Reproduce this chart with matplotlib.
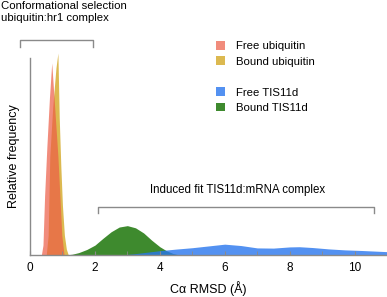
import matplotlib
matplotlib.use("Agg")
import matplotlib.pyplot as plt
from matplotlib.patches import Patch

plt.rcParams['font.family'] = ['Liberation Sans', 'DejaVu Sans']

# Free / bound ubiquitin (narrow peaks)
free_ubq_x = [0.35, 0.40, 0.45, 0.52, 0.60, 0.67, 0.72, 0.80, 0.86, 0.92, 0.98, 1.05]
free_ubq_y = [0.0, 0.05, 0.30, 0.55, 0.80, 0.975, 0.85, 0.65, 0.50, 0.30, 0.10, 0.0]
bound_ubq_x = [0.50, 0.56, 0.61, 0.70, 0.80, 0.86, 0.90, 0.95, 1.00, 1.06, 1.12, 1.18]
bound_ubq_y = [0.0, 0.10, 0.50, 0.75, 0.95, 1.025, 0.70, 0.45, 0.25, 0.10, 0.03, 0.0]

# Bound TIS11d
bound_tis_x = [1.1, 1.3, 1.5, 1.75, 2.0, 2.25, 2.5, 2.75, 3.0, 3.25, 3.5, 3.75, 4.0, 4.2, 4.4, 4.6]
bound_tis_y = [0.0, 0.004, 0.012, 0.028, 0.05, 0.085, 0.118, 0.142, 0.149, 0.138, 0.112, 0.075, 0.042, 0.022, 0.008, 0.0]

# Free TIS11d
free_tis_x = [2.8, 3.2, 3.6, 4.0, 4.5, 5.0, 5.5, 6.0, 6.5, 7.0, 7.5, 8.0, 8.3, 8.7, 9.2, 9.7, 10.2, 10.6, 11.0]
free_tis_y = [0.0, 0.006, 0.014, 0.022, 0.030, 0.037, 0.046, 0.055, 0.048, 0.036, 0.035, 0.041, 0.042, 0.038, 0.031, 0.026, 0.023, 0.020, 0.017]

xticks = [0, 2, 4, 6, 8, 10]
minor_xticks = [1, 3, 5, 7, 9, 11]

c_free_ubq = (236 / 255, 91 / 255, 69 / 255)
c_bound_ubq = '#DCB950'
c_free_tis = (40 / 255, 118 / 255, 238 / 255)
c_bound_tis = '#3E8A2E'
spine_gray = '#8a8a8a'

W, H = 387, 297
fig = plt.figure(figsize=(W / 100, H / 100), dpi=100)
ax = fig.add_axes([30 / W, 1 - 255 / H, (W - 30) / W, (255 - 58) / H])

ax.fill_between(bound_tis_x, bound_tis_y, color=c_bound_tis, lw=0)
ax.fill_between(free_tis_x, free_tis_y, color=c_free_tis, alpha=0.8, lw=0)
ax.fill_between(bound_ubq_x, bound_ubq_y, color=c_bound_ubq, lw=0, clip_on=False)
ax.fill_between(free_ubq_x, free_ubq_y, color=c_free_ubq, alpha=0.7, lw=0, clip_on=False)

ax.set_xlim(0, 11)
ax.set_ylim(0, 1.0)
for s in ['top', 'right']:
    ax.spines[s].set_visible(False)
for s in ['left', 'bottom']:
    ax.spines[s].set_color(spine_gray)
    ax.spines[s].set_linewidth(1.0)
ax.set_yticks([])
ax.set_xticks(xticks)
ax.set_xticks(minor_xticks, minor=True)
ax.tick_params(axis='x', which='both', direction='in', length=3, color=spine_gray,
               labelsize=8.5, pad=5)
ax.set_xlabel('C\u03b1 RMSD (\u00c5)', fontsize=9, labelpad=5)
ax.set_ylabel('Relative frequency', fontsize=9, labelpad=7)

# brackets
ax.plot([-0.3, -0.3, 1.93, 1.93], [1.056, 1.091, 1.091, 1.056], color=spine_gray, lw=1, clip_on=False)
ax.plot([2.08, 2.08, 10.6, 10.6], [0.213, 0.244, 0.244, 0.213], color=spine_gray, lw=1, clip_on=False)

fig.text(1 / W, 1 - 1 / H, 'Conformational selection\nubiquitin:hr1 complex',
         ha='left', va='top', fontsize=8.2, linespacing=1.2)
ax.text(6.4, 0.33, 'Induced fit TIS11d:mRNA complex', ha='center', va='center', fontsize=8.3)

handles = [Patch(color=c_free_ubq, alpha=0.7, lw=0), Patch(color=c_bound_ubq, lw=0),
           Patch(color='none', lw=0),
           Patch(color=c_free_tis, alpha=0.8, lw=0), Patch(color=c_bound_tis, lw=0)]
labels = ['Free ubiquitin', 'Bound ubiquitin', '', 'Free TIS11d', 'Bound TIS11d']
fig.legend(handles, labels, loc='upper left', bbox_to_anchor=(216 / W, 1 - 41 / H),
           frameon=False, fontsize=8.2, handlelength=0.8, handleheight=0.8,
           handletextpad=0.95, labelspacing=0.45, borderaxespad=0, borderpad=0)

fig.savefig('out.png', dpi=100)
